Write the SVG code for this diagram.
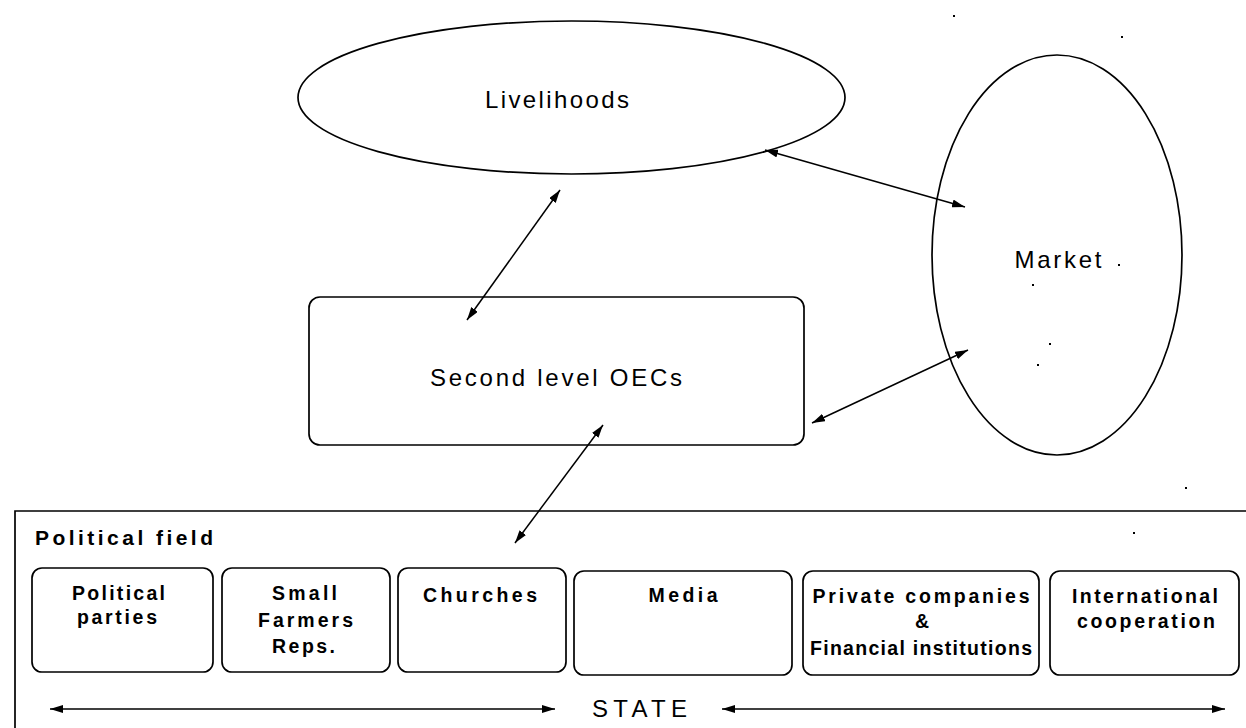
<svg xmlns="http://www.w3.org/2000/svg" width="1246" height="728" viewBox="0 0 1246 728">
<defs>
<style>
.shape{fill:#fff;stroke:#000;stroke-width:1.7}
.frame{fill:none;stroke:#000;stroke-width:1.7}
.conn{stroke:#000;stroke-width:1.5;fill:none}
.lbl{font-family:"Liberation Sans",Arial,sans-serif;font-size:24px;fill:#000;text-anchor:middle}
.sub{font-family:"Liberation Sans",Arial,sans-serif;font-size:19.5px;font-weight:bold;fill:#000;text-anchor:middle}
.title{font-family:"Liberation Sans",Arial,sans-serif;font-size:21px;font-weight:bold;fill:#000}
.speck{fill:#000}
</style>
<marker id="ah" viewBox="0 0 13 8" refX="13" refY="4" markerWidth="13" markerHeight="8" markerUnits="userSpaceOnUse" orient="auto-start-reverse">
<path d="M0,0 L13,4 L0,8 z" fill="#000"/>
</marker>
</defs>
<rect width="1246" height="728" fill="#fff"/>

<g id="livelihoods">
<ellipse class="shape" cx="571.5" cy="97.5" rx="273.5" ry="76.5"/>
<text class="lbl" x="557" y="108" textLength="144">Livelihoods</text>
</g>

<g id="market">
<ellipse class="shape" cx="1057" cy="255" rx="125" ry="200"/>
<text class="lbl" x="1058" y="268" textLength="87">Market</text>
</g>

<g id="second-level-oecs">
<rect class="shape" x="309" y="297" width="495" height="148" rx="11" ry="11"/>
<text class="lbl" x="556" y="386" textLength="252">Second level OECs</text>
</g>

<g id="political-field">
<path class="frame" d="M15,740 L15,511 L1250,511"/>
<text class="title" x="35" y="545" textLength="178">Political field</text>
</g>

<g id="political-parties">
<rect class="shape" x="32" y="568" width="181" height="104" rx="10" ry="10"/>
<text class="sub" x="118.5" y="600" textLength="93">Political</text>
<text class="sub" x="117" y="624" textLength="80">parties</text>
</g>

<g id="small-farmers">
<rect class="shape" x="222" y="568" width="168" height="104" rx="10" ry="10"/>
<text class="sub" x="304.5" y="600" textLength="65">Small</text>
<text class="sub" x="305.5" y="627" textLength="95">Farmers</text>
<text class="sub" x="303.5" y="653" textLength="63">Reps.</text>
</g>

<g id="churches">
<rect class="shape" x="398" y="568" width="168" height="104" rx="10" ry="10"/>
<text class="sub" x="480" y="602" textLength="114">Churches</text>
</g>

<g id="media">
<rect class="shape" x="574" y="571" width="218" height="104" rx="10" ry="10"/>
<text class="sub" x="683" y="602" textLength="69">Media</text>
</g>

<g id="private-companies">
<rect class="shape" x="803" y="571" width="236" height="104" rx="10" ry="10"/>
<text class="sub" x="921" y="603" textLength="217">Private companies</text>
<text class="sub" x="922" y="628">&amp;</text>
<text class="sub" x="921" y="655" textLength="222">Financial institutions</text>
</g>

<g id="international-cooperation">
<rect class="shape" x="1050" y="571" width="189" height="104" rx="10" ry="10"/>
<text class="sub" x="1145" y="603" textLength="146">International</text>
<text class="sub" x="1146" y="628" textLength="138">cooperation</text>
</g>

<g id="state">
<text class="lbl" x="639.5" y="717" font-size="24" textLength="95">STATE</text>
</g>

<g id="connectors">
<line class="conn" x1="560" y1="190" x2="467" y2="320" marker-start="url(#ah)" marker-end="url(#ah)"/>
<line class="conn" x1="765" y1="150" x2="965" y2="207" marker-start="url(#ah)" marker-end="url(#ah)"/>
<line class="conn" x1="968" y1="350" x2="812" y2="423" marker-start="url(#ah)" marker-end="url(#ah)"/>
<line class="conn" x1="603" y1="425" x2="515" y2="543" marker-start="url(#ah)" marker-end="url(#ah)"/>
<line class="conn" x1="50" y1="709" x2="555" y2="709" marker-start="url(#ah)" marker-end="url(#ah)"/>
<line class="conn" x1="722" y1="709" x2="1225" y2="709" marker-start="url(#ah)" marker-end="url(#ah)"/>
</g>

<g id="specks">
<rect class="speck" x="953" y="15" width="2" height="2"/>
<rect class="speck" x="1121" y="36" width="2" height="2"/>
<rect class="speck" x="1118" y="264" width="2" height="2"/>
<rect class="speck" x="1032" y="284" width="2" height="2"/>
<rect class="speck" x="1049" y="343" width="2" height="2"/>
<rect class="speck" x="1037" y="364" width="2" height="2"/>
<rect class="speck" x="1185" y="487" width="2" height="2"/>
<rect class="speck" x="1133" y="532" width="2" height="2"/>
</g>
</svg>
